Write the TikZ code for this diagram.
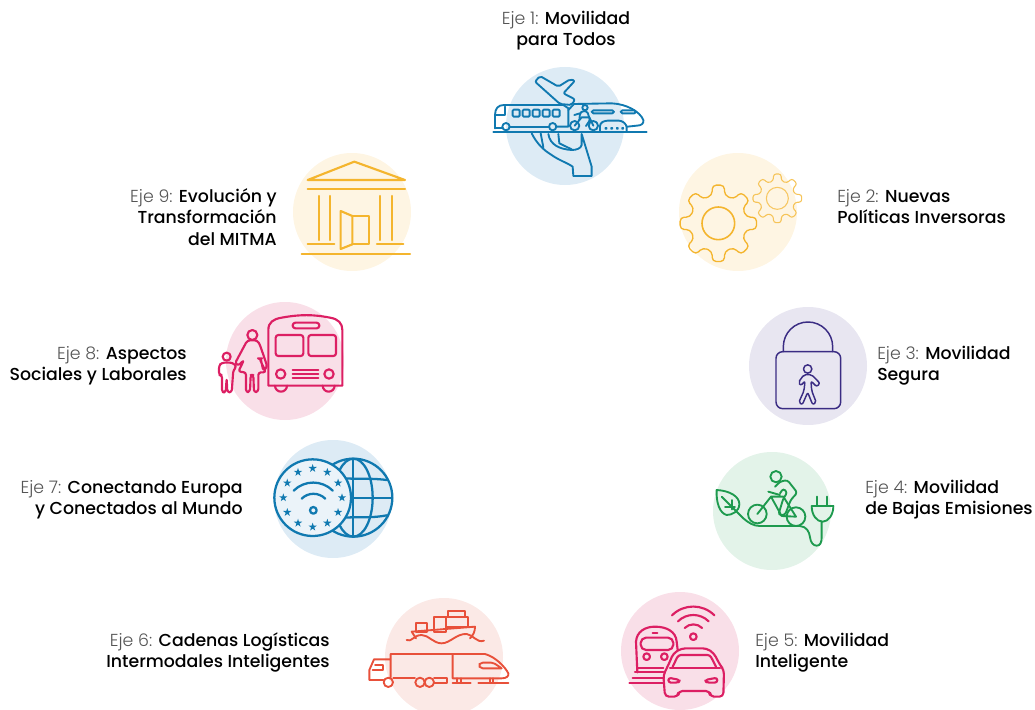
\documentclass[tikz,border=0pt]{standalone}
\usepackage{fontspec}
\setmainfont{Poppins Light}[BoldFont={Poppins Medium}]
\definecolor{cBlueL}{HTML}{DDEBF5}\definecolor{cYelL}{HTML}{FEF5E3}\definecolor{cLavL}{HTML}{E8E6F1}
\definecolor{cGreL}{HTML}{E3F3E9}\definecolor{cPinkL}{HTML}{F9DFE8}\definecolor{cSalL}{HTML}{FBE9E6}
\definecolor{cBlue}{HTML}{1079B0}\definecolor{cYel}{HTML}{F4B52E}\definecolor{cPur}{HTML}{3A2C83}
\definecolor{cGre}{HTML}{1E9A4E}\definecolor{cPink}{HTML}{DC1F63}\definecolor{cSal}{HTML}{E8503A}
\definecolor{cTxt}{HTML}{555555}
\newcommand{\eje}[1]{\textcolor{cTxt}{#1}}
\newcommand{\gearshape}[6]{% cx cy outer root teeth phase
  \draw[#6] \foreach \ii in {1,...,#5}{
     \ifnum\ii=1 \else -- \fi ({#1+#4*cos((\ii-0.28)*360/#5)},{#2+#4*sin((\ii-0.28)*360/#5)})
     -- ({#1+#3*cos((\ii-0.2)*360/#5)},{#2+#3*sin((\ii-0.2)*360/#5)})
     -- ({#1+#3*cos((\ii+0.2)*360/#5)},{#2+#3*sin((\ii+0.2)*360/#5)})
     -- ({#1+#4*cos((\ii+0.28)*360/#5)},{#2+#4*sin((\ii+0.28)*360/#5)})
  } -- cycle;}
\newcommand{\estrella}[2]{\fill[cBlue] \foreach \jj in {0,...,9}{
   \ifnum\jj=0 \else -- \fi ({#1+(13-8*mod(\jj,2))*cos(90+36*\jj)},{#2-(13-8*mod(\jj,2))*sin(90+36*\jj)})
  } -- cycle;}
\tikzset{
  lbl/.style={inner sep=0pt,font=\fontsize{13}{15.9}\selectfont},
  zoomed/.style={shift={#1},x=0.25pt,y=-0.25pt,line join=round,line cap=round},
}
\begin{document}
\begin{tikzpicture}[x=0.75pt,y=-0.75pt]
\useasboundingbox (0,0) rectangle (1035,710);
\begin{scope}
\clip (0,0) rectangle (1035,710);
\fill[cBlueL] (565,126) circle (59);
\fill[cYelL] (738,212) circle (59);
\fill[cLavL] (808,366) circle (59);
\fill[cGreL] (772,511) circle (59);
\fill[cPinkL] (680,651) circle (59);
\fill[cSalL] (444,657) circle (59);
\fill[cBlueL] (333,499) circle (59);
\fill[cPinkL] (285,361) circle (59);
\fill[cYelL] (352,212) circle (59);
\end{scope}

% Eje 1
\begin{scope}[zoomed={(480,60)},cBlue,line width=1.4pt]
\draw[rounded corners=1.5pt] (165,65) -- (180,48) -- (235,80) -- (270,58) -- (285,62) -- (250,100) -- (285,118) -- (275,135) -- (240,132) -- cycle;
\draw (45,205) -- (45,165) .. controls (45,145) and (55,135) .. (72,135) -- (250,135) -- (265,145) -- (265,200) -- (228,200);
\draw (88,200) -- (208,200);
\draw (45,205) -- (68,205);
\draw (48,165) -- (75,165) -- (75,140);
\foreach \xx in {98,128,158,188,218} \draw[rounded corners=.8pt] (\xx,149) rectangle ++(21,21);
\draw (78,200) circle (11);\draw (218,200) circle (11);
\draw (40,215) -- (500,215);
\draw (282,132) -- (395,130) .. controls (440,132) and (480,155) .. (490,180) .. controls (492,190) and (485,197) .. (470,197) -- (442,200);
\draw[rounded corners=1.2pt] (335,151) rectangle (402,160);
\draw[rounded corners=1.2pt] (422,151) rectangle (468,160);
\draw (265,150) -- (282,132);
% cyclist
\draw (315,143) circle (8);
\draw[rounded corners=1pt] (298,180) -- (300,160) -- (308,153) -- (322,155) -- (330,180) -- (318,198);
\draw (283,165) -- (300,160);
\draw (284,197) circle (14);\draw (340,197) circle (14);
\draw (284,197) -- (305,172) -- (328,172) -- (340,197);
% small train
\draw[rounded corners=2pt] (360,212) -- (360,190) -- (375,182) -- (425,182) -- (440,195) -- (440,212);
\foreach \xx in {378,395,412,428} \draw (\xx,205) circle (2);
% hand
\draw (155,220) .. controls (170,250) and (190,270) .. (215,285) .. controls (235,300) and (265,310) .. (278,320) -- (280,348) -- (335,348) -- (335,320) -- (305,222) -- (305,255) .. controls (303,265) and (290,270) .. (275,270) .. controls (240,268) and (210,255) .. (205,222);
\draw (182,220) -- (190,262);
\draw (235,222) -- (238,250) -- (275,268);
\end{scope}

% Eje 2
\begin{scope}[zoomed={(670,145)}]
\gearshape{145}{235}{116}{86}{8}{cYel,line width=1pt,rounded corners=3pt}
\draw[cYel,line width=1.2pt] (145,235) circle (49);
\gearshape{322}{160}{74}{54}{8}{cYel!80,line width=.8pt,rounded corners=2pt}
\draw[cYel!75,line width=.8pt] (322,160) circle (33);
\end{scope}

% Eje 3
\begin{scope}[zoomed={(700,300)},cPur,line width=1.1pt]
\draw (250,155) -- (250,140) arc (-180:0:74) -- (398,155);
\draw[rounded corners=5pt] (228,155) rectangle (422,326);
\draw (323,207) circle (12.5);
\draw[rounded corners=1.5pt] (312,224) -- (295,247) -- (302,257) -- (315,243) -- (312,272) -- (296,308) -- (307,314) -- (323,277) -- (338,314) -- (349,308) -- (335,272) -- (333,243) -- (350,260) -- (360,250) -- (335,224) -- cycle;
\end{scope}

% Eje 4
\begin{scope}[zoomed={(700,300)},cGre,line width=1.4pt]
\draw (228,530) circle (17);
\draw (50,570) .. controls (90,572) and (118,590) .. (118,612) .. controls (118,635) and (95,645) .. (80,645) .. controls (60,640) and (48,610) .. (50,570) -- cycle;
\draw (65,590) -- (130,655) .. controls (145,668) and (160,678) .. (180,678) -- (300,678) .. controls (320,680) and (328,695) .. (330,712) .. controls (332,728) and (340,737) .. (350,737) .. controls (360,737) and (365,728) .. (365,712) -- (365,665);
\draw (95,600) -- (95,628);\draw (75,620) -- (105,620);
\draw (172,642) circle (28);\draw (288,650) circle (28);
\draw (172,642) -- (213,590) -- (250,590) -- (288,650) -- (245,648) -- (213,590);
\draw (205,575) -- (240,585);
\draw[rounded corners=2pt] (225,560) -- (240,545) -- (262,540) -- (292,578) -- (272,600) -- (255,645) -- (235,645) -- (250,595) -- (262,578) -- (250,565) -- (240,580);
\draw (335,618) -- (400,618) .. controls (400,645) and (385,665) .. (368,665) .. controls (350,665) and (335,645) .. (335,618);
\draw (352,590) -- (352,618);\draw (382,590) -- (382,618);
\end{scope}

% Eje 5
\begin{scope}[zoomed={(610,585)},cPink,line width=1.6pt]
\draw (82,262) -- (78,170) .. controls (80,140) and (105,125) .. (135,125) .. controls (170,125) and (198,140) .. (200,170) -- (203,195);
\draw[rounded corners=4pt] (92,158) rectangle (190,195);
\draw (128,143) -- (142,143);
\draw (110,215) circle (10);\draw (163,215) circle (10);
\draw (85,250) -- (160,250);
\draw (75,262) -- (160,262);\draw (68,278) -- (160,278);\draw (58,293) -- (160,293);
\draw (250,155) circle (10);
\draw (224,129) arc (-135:-45:37);\draw (204,109) arc (-135:-45:65);\draw (186,91) arc (-135:-45:90);
\draw[rounded corners=3pt] (160,270) -- (175,240) -- (190,205) -- (215,190) -- (290,190) -- (312,205) -- (330,240) -- (342,255) -- (340,335) -- (300,335) -- (300,318) -- (205,318) -- (205,335) -- (165,335) -- cycle;
\draw (180,248) -- (330,248);
\draw[rounded corners=2pt] (188,245) -- (205,210) -- (300,210) -- (318,245);
\draw[rounded corners=2pt] (175,278) -- (210,285) -- (205,293) -- (175,293) -- cycle;
\draw[rounded corners=2pt] (322,278) -- (285,285) -- (290,293) -- (322,293) -- cycle;
\end{scope}

% Eje 6
\begin{scope}[zoomed={(360,590)},cSal,line width=1.4pt]
\draw (168,100) rectangle (200,125);
\draw (222,82) rectangle (258,125);
\draw (258,82) rectangle (325,112);
\draw (265,62) rectangle (315,82);
\draw (168,145) -- (155,125) -- (345,110) .. controls (345,125) and (340,135) .. (330,145);
\draw (140,150) .. controls (155,158) and (160,135) .. (185,135) .. controls (205,135) and (220,160) .. (245,160) .. controls (270,160) and (290,130) .. (320,132) .. controls (340,134) and (350,160) .. (372,152);
\draw (92,262) -- (92,192) -- (375,192) .. controls (405,200) and (435,230) .. (445,250) .. controls (447,258) and (440,265) .. (425,265) -- (278,265) -- (278,192);
\draw[rounded corners=1.5pt] (425,235) -- (362,235) -- (355,226) -- (362,218) -- (400,218) -- (425,235);
\draw (90,208) -- (42,208) -- (28,240) -- (28,270) -- (70,270);
\draw (38,240) -- (70,240) -- (70,225) -- (45,225);
\draw (85,277) circle (14);\draw (180,277) circle (14);\draw (208,277) circle (14);
\draw (100,265) -- (165,265);\draw (222,265) -- (262,265) -- (262,280) -- (222,280);
\draw (278,278) -- (332,278);\draw (355,278) -- (445,278);
\draw (292,265) -- (292,278);\draw (302,265) -- (302,278);\draw (390,265) -- (390,278);\draw (400,265) -- (400,278);
\end{scope}

% Eje 7
\begin{scope}[zoomed={(260,430)},cBlue,line width=1.7pt]
\draw (280,203) circle (117);
\draw (280,203) ellipse (58 and 117);
\draw (280,86) -- (280,320);
\draw (170,146) .. controls (210,140) and (250,146) .. (280,146) .. controls (320,146) and (350,146) .. (380,150);
\draw (160,205) -- (397,205);
\draw (170,262) .. controls (210,266) and (250,262) .. (280,262) .. controls (320,262) and (350,262) .. (380,256);
\filldraw[fill=cBlueL!60!white] (158,203) circle (115);
\foreach \aa in {0,30,...,330} {\estrella{158+88*cos(\aa)}{203+88*sin(\aa)}}
\draw (160,241) circle (10);
\draw (125,206) arc (-135:-45:50);
\draw (101,182) arc (-135:-45:83);
\end{scope}

% Eje 8
\begin{scope}[zoomed={(210,295)},cPink,line width=1.6pt]
\draw (175,272) -- (175,105) .. controls (175,82) and (190,72) .. (215,68) .. controls (270,58) and (310,58) .. (360,68) .. controls (385,72) and (397,85) .. (397,105) -- (397,272) -- cycle;
\draw[rounded corners=2pt] (197,120) rectangle (280,183);
\draw[rounded corners=2pt] (295,120) rectangle (378,183);
\draw[rounded corners=2pt] (248,83) rectangle (328,100);
\draw (212,237) circle (14);\draw (357,237) circle (14);
\draw (248,225) -- (325,225);\draw (248,237) -- (325,237);\draw (248,249) -- (325,249);
\draw (195,272) arc (180:0:18);\draw (338,272) arc (180:0:18);
\draw (127,120) circle (15);
\draw[rounded corners=2pt] (112,136) -- (142,136) -- (150,150) -- (172,215) -- (160,228) -- (152,190) -- (148,190) -- (168,232) -- (145,232) -- (145,290) -- (132,292) -- (130,240) -- (122,240) -- (120,290) -- (108,292) -- (108,232) -- (85,230) -- (102,195) -- (85,212) -- (75,205) -- cycle;
\draw (50,185) circle (12);
\draw[rounded corners=2pt] (35,203) -- (68,203) -- (80,215) -- (70,225) -- (65,292) -- (52,292) -- (50,250) -- (47,292) -- (36,292) -- (36,240) -- (27,240) -- (27,212) -- cycle;
\end{scope}

% Eje 9
\begin{scope}[zoomed={(285,150)},cYel,line width=1.6pt]
\draw (68,90) -- (208,35) -- (360,90) -- cycle;
\draw (68,116) -- (360,116);
\foreach \xx in {102,135,285,320} \draw (\xx,138) -- (\xx,270);
\draw (68,283) -- (148,283);\draw (276,283) -- (355,283);
\draw (50,312) -- (375,312);
\draw (202,198) -- (252,198) -- (252,283) -- (202,283);
\draw (167,183) -- (202,198) -- (202,283) -- (167,297) -- cycle;
\end{scope}

% Labels
\node[lbl,align=center,anchor=center] (t1) at (566,30.5) {\eje{Eje 1:} \textbf{Movilidad}\\\textbf{para Todos}};
\node[lbl,align=left,anchor=west] (t2) at (837,206.5) {\eje{Eje 2:} \textbf{Nuevas}\\\textbf{Políticas Inversoras}};
\node[lbl,align=left,anchor=west] (t3) at (877,366) {\eje{Eje 3:} \textbf{Movilidad}\\\textbf{Segura}};
\node[lbl,align=left,anchor=west] (t4) at (865,499.5) {\eje{Eje 4:} \textbf{Movilidad}\\\textbf{de Bajas Emisiones}};
\node[lbl,align=left,anchor=west] (t5) at (755,652.5) {\eje{Eje 5:} \textbf{Movilidad}\\\textbf{Inteligente}};
\node[lbl,align=right,anchor=east] (t6) at (330,652.5) {\eje{Eje 6:} \textbf{Cadenas Logísticas}\\\textbf{Intermodales Inteligentes}};
\node[lbl,align=right,anchor=east] (t7) at (243,499.5) {\eje{Eje 7:} \textbf{Conectando Europa}\\\textbf{y Conectados al Mundo}};
\node[lbl,align=right,anchor=east] (t8) at (187,366) {\eje{Eje 8:} \textbf{Aspectos}\\\textbf{Sociales y Laborales}};
\node[lbl,align=right,anchor=east] (t9) at (277,217) {\eje{Eje 9:} \textbf{Evolución y}\\\textbf{Transformación}\\\textbf{del MITMA}};
\end{tikzpicture}
\end{document}
